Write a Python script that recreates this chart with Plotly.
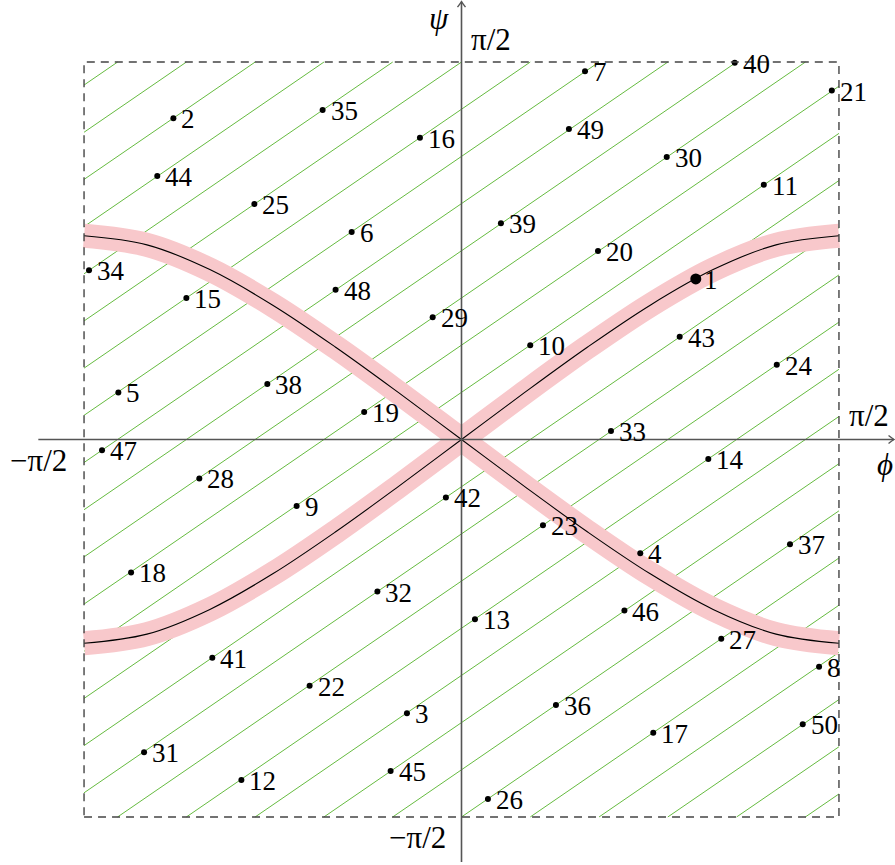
import math
import plotly.graph_objects as go

HALF_PI = math.pi / 2

# numbered sample points in the (phi, psi) square
labels = list(range(1, 51))
phi = [0.975, -1.199, -0.227, 0.744, -1.428, -0.457, 0.514, 1.488, -0.686, 0.286,
       1.258, -0.916, 0.056, 1.027, -1.145, -0.173, 0.798, -1.375, -0.405, 0.568,
       1.541, -0.632, 0.339, 1.312, -0.862, 0.110, 1.081, -1.091, -0.120, 0.854,
       -1.321, -0.350, 0.622, -1.550, -0.578, 0.393, 1.367, -0.808, 0.164, 1.137,
       -1.037, -0.065, 0.908, -1.266, -0.295, 0.678, -1.496, -0.524, 0.447, 1.420]
psi = [0.668, 1.337, -1.139, -0.473, 0.196, 0.864, 1.532, -0.946, -0.277, 0.392,
       1.060, -1.417, -0.748, -0.081, 0.589, 1.256, -1.220, -0.553, 0.114, 0.784,
       1.452, -1.025, -0.357, 0.311, 0.980, -1.496, -0.829, -0.162, 0.509, 1.176,
       -1.301, -0.633, 0.035, 0.704, 1.371, -1.105, -0.436, 0.231, 0.900, 1.568,
       -0.908, -0.241, 0.428, 1.097, -1.380, -0.712, -0.045, 0.623, 1.292, -1.185]

# the highlighted curve, sampled every 15 degrees of phi
curve_phi_deg = [-90, -75, -60, -45, -30, -15, 0, 15, 30, 45, 60, 75, 90]
curve_psi_up = [-0.848, -0.810, -0.707, -0.559, -0.384, -0.195, 0.0,
                0.195, 0.384, 0.559, 0.707, 0.810, 0.848]
curve_psi_down = [0.848, 0.810, 0.707, 0.559, 0.384, 0.195, 0.0,
                  -0.195, -0.384, -0.559, -0.707, -0.810, -0.848]

# hatching: parallel lines psi = slope*phi + k*step, clipped to the square
HATCH_SLOPE = 0.686
HATCH_STEP = math.pi / 16

# axis text
tick_pos = "π/2"
tick_neg = "−π/2"

PX = 240.3  # pixels per radian
X_RANGE = [-461.5 / PX, (895 - 461.5) / PX]
Y_RANGE = [(439.5 - 865) / PX, 439.5 / PX]

curve_phi = [math.radians(d) for d in curve_phi_deg]

hx, hy = [], []
kmax = int((HALF_PI + HATCH_SLOPE * HALF_PI) / HATCH_STEP) + 1
for k in range(-kmax, kmax + 1):
    c = k * HATCH_STEP
    lo = max(-HALF_PI, (-HALF_PI - c) / HATCH_SLOPE)
    hi = min(HALF_PI, (HALF_PI - c) / HATCH_SLOPE)
    if hi - lo > 1e-9:
        hx += [lo, hi, None]
        hy += [HATCH_SLOPE * lo + c, HATCH_SLOPE * hi + c, None]

fig = go.Figure()

fig.add_trace(go.Scatter(x=hx, y=hy, mode="lines",
                         line=dict(color="#66bb40", width=1.0),
                         hoverinfo="skip", showlegend=False))

for ys in (curve_psi_up, curve_psi_down):
    fig.add_trace(go.Scatter(x=curve_phi, y=ys, mode="lines",
                             line=dict(color="#f8c8cb", width=24, shape="spline"),
                             hoverinfo="skip", showlegend=False))
for ys in (curve_psi_up, curve_psi_down):
    fig.add_trace(go.Scatter(x=curve_phi, y=ys, mode="lines",
                             line=dict(color="black", width=1.1, shape="spline"),
                             hoverinfo="skip", showlegend=False))

sizes = [11 if i == 1 else 6 for i in labels]
fig.add_trace(go.Scatter(x=phi, y=psi, mode="markers",
                         marker=dict(color="black", size=sizes, opacity=1,
                                     line=dict(width=0)),
                         showlegend=False))

serif = "Liberation Serif, Times New Roman, serif"
FONT_SIZE = 27
TICK_FONT_SIZE = 31
annotations = []
for lab, a, b in zip(labels, phi, psi):
    annotations.append(dict(x=a, y=b, text=str(lab), showarrow=False,
                            xanchor="left", yanchor="middle", xshift=6, yshift=-1,
                            font=dict(family=serif, size=FONT_SIZE, color="black")))

# axis labels
axis_text = [
    (0.123, 1.664, tick_pos, "normal"),
    (-1.759, -0.088, tick_neg, "normal"),
    (-0.185, -1.656, tick_neg, "normal"),
    (1.696, 0.100, tick_pos, "normal"),
    (-0.094, 1.754, "ψ", "italic"),
    (1.762, -0.106, "ϕ", "italic"),
]
for ax_x, ax_y, txt, style in axis_text:
    annotations.append(dict(x=ax_x, y=ax_y, text=txt, showarrow=False,
                            xanchor="center", yanchor="middle",
                            font=dict(family=serif, size=TICK_FONT_SIZE, color="black",
                                      style=style)))

AX_COLOR = "#555555"
X_AXIS = (-1.761, 1.800)
Y_AXIS = (-1.758, 1.822)
shapes = [
    dict(type="rect", x0=-HALF_PI, x1=HALF_PI, y0=-HALF_PI, y1=HALF_PI,
         line=dict(color="#444444", width=1.4, dash="8px,6px"), layer="above"),
    dict(type="line", x0=X_AXIS[0], x1=X_AXIS[1], y0=0, y1=0,
         line=dict(color=AX_COLOR, width=1.6), layer="above"),
    dict(type="line", x0=0, x1=0, y0=Y_AXIS[0], y1=Y_AXIS[1],
         line=dict(color=AX_COLOR, width=1.6), layer="above"),
]
aw, al = 4.0 / PX, 5.5 / PX
shapes.append(dict(type="path",
                   path=f"M {-aw},{Y_AXIS[1] - al} Q {-aw * 0.3},{Y_AXIS[1] - al * 0.35} 0,{Y_AXIS[1]} "
                        f"Q {aw * 0.3},{Y_AXIS[1] - al * 0.35} {aw},{Y_AXIS[1] - al}",
                   line=dict(color=AX_COLOR, width=1.4), layer="above"))
shapes.append(dict(type="path",
                   path=f"M {X_AXIS[1] - al},{-aw} Q {X_AXIS[1] - al * 0.35},{-aw * 0.3} {X_AXIS[1]},0 "
                        f"Q {X_AXIS[1] - al * 0.35},{aw * 0.3} {X_AXIS[1] - al},{aw}",
                   line=dict(color=AX_COLOR, width=1.4), layer="above"))

fig.update_layout(
    width=895, height=865,
    margin=dict(l=0, r=0, t=0, b=0),
    paper_bgcolor="white", plot_bgcolor="white",
    xaxis=dict(range=X_RANGE, visible=False, fixedrange=True),
    yaxis=dict(range=Y_RANGE, visible=False, fixedrange=True),
    shapes=shapes, annotations=annotations,
    showlegend=False,
)

fig.write_html("out.html")
